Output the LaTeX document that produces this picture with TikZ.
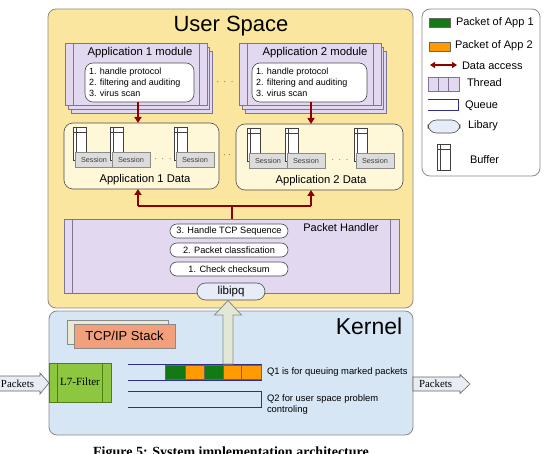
\documentclass[tikz,border=0pt]{standalone}
\usepackage{fontspec}
\setmainfont{Liberation Sans}
\newfontfamily\seriffont{Liberation Serif}
\usetikzlibrary{fit,arrows.meta}
\definecolor{bordergray}{HTML}{8A8A8A}
\definecolor{userfill}{HTML}{FBE6A0}
\definecolor{datafill}{HTML}{FEF7D8}
\definecolor{threadfill}{HTML}{E2D8F0}
\definecolor{threadline}{HTML}{7F7396}
\definecolor{kernelfill}{HTML}{D7E6F4}
\definecolor{libfill}{HTML}{E6ECF8}
\definecolor{tcpfront}{HTML}{F2A07C}
\definecolor{tcpback}{HTML}{E9E9D6}
\definecolor{lsevengreen}{HTML}{8DC63F}
\definecolor{lsevenline}{HTML}{4E7D1A}
\definecolor{pktgreen}{HTML}{137A13}
\definecolor{pktorange}{HTML}{FF9A00}
\definecolor{queueblue}{HTML}{2E2E8C}
\definecolor{darkred}{HTML}{8B0000}
\definecolor{sessfill}{HTML}{DCDCDC}
\definecolor{fatfill}{HTML}{E3E7D6}
\definecolor{pktarrow}{HTML}{E8ECF4}
\begin{document}
\begin{tikzpicture}[x=1pt,y=-1pt,
  every node/.style={inner sep=0pt, outer sep=0pt},
  userbox/.style={draw=bordergray, fill=userfill, rounded corners=8pt, line width=0.8pt},
  kernbox/.style={draw=bordergray, fill=kernelfill, rounded corners=8pt, line width=0.8pt},
  legbox/.style={draw=bordergray, fill=white, rounded corners=8pt, line width=0.8pt},
  threadbox/.style={draw=threadline, fill=threadfill, line width=0.6pt},
  tline/.style={draw=threadline, line width=0.6pt},
  innerbox/.style={draw=black!70, fill=white, rounded corners=8pt, line width=0.6pt},
  databox/.style={draw=black!70, fill=datafill, rounded corners=9pt, line width=0.6pt},
  sessbox/.style={draw=bordergray, fill=sessfill, line width=0.5pt, minimum width=38pt, minimum height=15pt, font=\fontsize{7.3}{8}\selectfont, text=black!75},
  bufbox/.style={draw=black!75, fill=white, line width=0.5pt},
  pill/.style={draw=black!70, fill=white, rounded corners=7pt, minimum width=118pt, minimum height=14pt, line width=0.6pt, font=\fontsize{9.2}{10}\selectfont},
  libbox/.style={draw=black!70, fill=libfill, rounded corners=8.5pt, line width=0.6pt, font=\fontsize{11.5}{12}\selectfont},
  redarrow/.style={draw=darkred, line width=1.6pt, -{Triangle[length=6pt,width=7pt]}},
  redline/.style={draw=darkred, line width=1.6pt},
  queue/.style={draw=queueblue, line width=1pt},
  pktg/.style={draw=black!60, fill=pktgreen, line width=0.5pt},
  pkto/.style={draw=black!60, fill=pktorange, line width=0.5pt},
  fatarrow/.style={draw=bordergray, fill=fatfill, line width=0.8pt},
  pktarr/.style={draw=black!60, fill=pktarrow, line width=0.6pt},
  itemtext/.style={font=\fontsize{9}{11}\selectfont},
  qtext/.style={font=\fontsize{9.4}{11.5}\selectfont},
  leg/.style={font=\fontsize{11}{12}\selectfont, anchor=west},
  dots/.style={font=\fontsize{9}{10}\selectfont}
]
\useasboundingbox (0,0) rectangle (546,454);

% ---------------- User space ----------------
\node[userbox, fit={(48,9) (413,308)}] (us) {};
\node[font=\fontsize{22}{24}\selectfont] (ustitle) at (231,26) {User Space};

% module 1
\draw[threadbox] (71,51) rectangle (212,113);
\draw[threadbox] (68,47) rectangle (209.5,109);
\node[threadbox, fit={(65,43) (207,105)}] (m1) {};
\draw[tline] ([xshift=8pt]m1.north west) -- ([xshift=8pt]m1.south west);
\draw[tline] ([xshift=-8pt]m1.north east) -- ([xshift=-8pt]m1.south east);
\node[font=\fontsize{11.3}{13}\selectfont] (m1t) at (140,53) {Application 1 module};
\node[innerbox, fit={(85,63) (194,102)}] (m1i) {};
\node[itemtext, anchor=north west, align=left] (m1l) at (89,67.5) {1. handle protocol\\2. filtering and auditing\\3. virus scan};

% module 2
\draw[threadbox] (245,51) rectangle (386,113);
\draw[threadbox] (242,47) rectangle (383.5,109);
\node[threadbox, fit={(239,43) (381,105)}] (m2) {};
\draw[tline] ([xshift=8pt]m2.north west) -- ([xshift=8pt]m2.south west);
\draw[tline] ([xshift=-8pt]m2.north east) -- ([xshift=-8pt]m2.south east);
\node[font=\fontsize{11.3}{13}\selectfont] (m2t) at (315,53) {Application 2 module};
\node[innerbox, fit={(252,63) (367,102)}] (m2i) {};
\node[itemtext, anchor=north west, align=left] (m2l) at (256,67.5) {1. handle protocol\\2. filtering and auditing\\3. virus scan};

\node[dots] (mdots) at (225,82) {$\cdot\;\cdot\;\cdot$};

% data boxes
\node[databox, fit={(64,123) (219,189)}] (d1) {};
\node[databox, fit={(236,124) (403,190)}] (d2) {};
\node[font=\fontsize{11.2}{12}\selectfont] (d1t) at (145,180) {Application 1 Data};
\node[font=\fontsize{11.2}{12}\selectfont] (d2t) at (321,181) {Application 2 Data};

% buffers + sessions
\foreach \sx/\nm/\yy in {75/s1/152, 112/s2/152, 176/s3/152, 249/s4/153, 287/s5/153, 356/s6/153}{
  \node[bufbox, fit={(\sx-2,\yy-25) (\sx+11,\yy+8)}] (b\nm) {};
  \draw[black!75, line width=0.5pt] ([xshift=3pt]b\nm.north west) -- ([xshift=3pt]b\nm.south west);
  \draw[black!75, line width=0.5pt] ([yshift=-5pt]b\nm.north west) -- ([yshift=-5pt]b\nm.north east);
  \node[sessbox, anchor=north west] (\nm) at (\sx,\yy) {Session};
}
\node[dots] (dd1) at (163,159) {$\cdot\;\cdot\;\cdot$};
\node[dots] (dd2) at (340,160) {$\cdot\;\cdot\;\cdot$};
\node[dots] (ddm) at (227,155) {$\cdot\;\cdot$};

% module -> data arrows
\draw[redarrow] (m1i.south -| 138,0) -- (d1.north -| 138,0);
\draw[redarrow] (m2i.south -| 311,0) -- (d2.north -| 311,0);

% packet handler
\node[threadbox, fit={(64,219) (399,293)}] (ph) {};
\draw[tline] ([xshift=8.5pt]ph.north west) -- ([xshift=8.5pt]ph.south west);
\draw[tline] ([xshift=-8.5pt]ph.north east) -- ([xshift=-8.5pt]ph.south east);
\node[font=\fontsize{11}{12}\selectfont] (pht) at (341,228) {Packet Handler};
\node[pill] (p3) at (229,231) {3. Handle TCP Sequence};
\node[pill] (p2) at (229,250) {2. Packet classfication};
\node[pill] (p1) at (229,269) {1. Check checksum};
\node[libbox, minimum width=68pt, minimum height=17pt] (lib) at (231,291.5) {libipq};

% handler -> data connectors
\coordinate (j) at (232,206);
\coordinate (a1) at (138,206);
\coordinate (a2) at (311,206);
\draw[redline] (ph.north -| j) -- (j);
\draw[redline] (a1) -- (a2);
\draw[redarrow] (a1) -- (a1 |- d1.south);
\draw[redarrow] (a2) -- (a2 |- d2.south);

% ---------------- Kernel ----------------
\node[kernbox, fit={(49,311) (413,435)}] (k) {};
\node[font=\fontsize{23}{25}\selectfont] (kt) at (369,326) {Kernel};

\draw[draw=bordergray, fill=tcpback, line width=0.6pt] (67,320) rectangle (168,344);
\node[draw=bordergray, fill=tcpfront, line width=0.6pt, fit={(74,324) (175,348)}] (tcp) {};
\node[font=\fontsize{13}{14}\selectfont] (tcpt) at (124.5,336) {TCP/IP Stack};

% L7 filter
\node[draw=lsevenline, fill=lsevengreen, line width=0.6pt, fit={(49,363) (111,402)}] (l7) {};
\draw[lsevenline, line width=0.6pt] ([xshift=8.5pt]l7.north west) -- ([xshift=8.5pt]l7.south west);
\draw[lsevenline, line width=0.6pt] ([xshift=-8.5pt]l7.north east) -- ([xshift=-8.5pt]l7.south east);
\node[font=\seriffont\fontsize{11}{12}\selectfont] (l7t) at (80,382) {L7-Filter};

% queues
\draw[queue] (128,364) -- (261,364) -- (261,380) -- (128,380);
\draw[queue] (128,391) -- (261,391) -- (261,407) -- (128,407);
\node[pktg, fit={(165,365) (185,379)}] (k1) {};
\node[pkto, fit={(185,365) (204,379)}] (k2) {};
\node[pktg, fit={(204,365) (223,379)}] (k3) {};
\node[pkto, fit={(223,365) (241,379)}] (k4) {};
\node[pkto, fit={(241,365) (261,379)}] (k5) {};
\node[qtext, anchor=west] (q1t) at (267,372) {Q1 is for queuing marked packets};
\node[qtext, anchor=north west, align=left] (q2t) at (267,394.5) {Q2 for user space problem\\controling};

% fat arrow queue -> libipq
\coordinate (tip) at (228,300.5);
\draw[fatarrow] (tip) -- (241.5,315) -- (233,315) -- (233,364) -- (223,364) -- (223,315) -- (214.5,315) -- cycle;

% packets arrows
\draw[pktarr] (l7.west |- 0,383) -- (40,373) -- (40,376) -- (-2,376) -- (-2,391) -- (40,391) -- (40,394) -- cycle;
\node[font=\seriffont\fontsize{10.8}{12}\selectfont, anchor=west] (pin) at (1,383.5) {Packets};
\draw[pktarr] (470,384) -- (460,374.5) -- (460,377) -- (k.east |- 0,377) -- (k.east |- 0,391) -- (460,391) -- (460,393.5) -- cycle;
\node[font=\seriffont\fontsize{10.8}{12}\selectfont, anchor=west] (pout) at (419,384) {Packets};

% ---------------- Legend ----------------
\node[legbox, fit={(422,9) (540,176)}] (lg) {};
\node[pktg, fit={(429,18) (450,27)}] (lg1) {};
\node[leg] (lg1t) at (456,22.5) {Packet of App 1};
\node[pkto, fit={(429,42) (450,51)}] (lg2) {};
\node[leg] (lg2t) at (455,45.5) {Packet of App 2};
\coordinate (lg3a) at (430,65);
\coordinate (lg3b) at (457,65);
\draw[darkred, line width=1.4pt, {Triangle[length=5pt,width=6pt]}-{Triangle[length=5pt,width=6pt]}] (lg3a) -- (lg3b);
\node[leg] (lg3t) at (462,66) {Data access};
\node[threadbox, fit={(428,77) (459,91)}] (lg4) {};
\draw[tline] (438.3,77) -- (438.3,91);
\draw[tline] (448.7,77) -- (448.7,91);
\node[leg] (lg4t) at (467,83) {Thread};
\draw[queue] (428,100) -- (458,100) -- (458,111) -- (428,111);
\node[leg] (lg5t) at (465,106) {Queue};
\node[libbox, minimum width=32pt, minimum height=13pt] (lg6) at (444,126.5) {};
\node[leg] (lg6t) at (468,126) {Libary};
\node[bufbox, fit={(437,144) (450,170)}] (lg7) {};
\draw[black!75, line width=0.5pt] (440,144) -- (440,170);
\draw[black!75, line width=0.5pt] (437,149) -- (450,149);
\node[leg] (lg7t) at (470,160) {Buffer};

% caption
\node[font=\seriffont\bfseries\fontsize{14}{16}\selectfont, anchor=base] (cap) at (231,456.5) {Figure 5: System implementation architecture};
\end{tikzpicture}
\end{document}
